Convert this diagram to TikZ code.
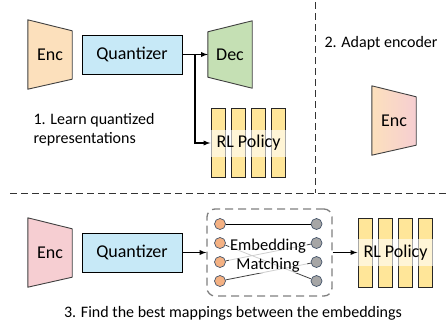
\documentclass[tikz,border=0pt]{standalone}
\usepackage{fontspec}
\setmainfont{Carlito}
\usetikzlibrary{arrows, positioning, calc, backgrounds}

\definecolor{encpeach}{RGB}{252,224,188}
\definecolor{encpink}{RGB}{246,206,210}
\definecolor{quantblue}{RGB}{199,233,247}
\definecolor{decgreen}{RGB}{197,224,180}
\definecolor{baryellow}{RGB}{255,230,153}
\definecolor{dotorange}{RGB}{244,177,131}
\definecolor{dotgray}{RGB}{166,166,166}
\definecolor{dotedge}{RGB}{68,84,106}
\definecolor{edgedark}{RGB}{64,64,64}
\definecolor{boxgray}{RGB}{127,127,127}

\begin{document}
\begin{tikzpicture}[x=1pt,y=-1pt,on grid,>=latex]
    \tikzstyle{txt}=[font=\fontsize{18}{20}\selectfont]
    \tikzstyle{note}=[font=\fontsize{16}{19}\selectfont]
    \tikzstyle{encbox}=[txt, minimum width=44pt, minimum height=69pt, inner sep=0pt]
    \tikzstyle{quant}=[txt, draw=black, line width=0.9pt, fill=quantblue, minimum width=100pt, minimum height=39pt]
    \tikzstyle{policy}=[txt, fill=white, fill opacity=0.6, text opacity=1, minimum width=76pt, minimum height=27pt, inner sep=0pt]
    \tikzstyle{bar}=[draw=black!85, line width=0.9pt, fill=baryellow]
    \tikzstyle{trap}=[draw=edgedark, line width=0.9pt, line join=round]
    \tikzstyle{matchbox}=[draw=boxgray, line width=1.3pt, dash pattern=on 8pt off 5pt, rounded corners=8pt, minimum width=125pt, minimum height=87pt]
    \tikzstyle{dot}=[circle, draw=dotedge, line width=0.7pt, minimum size=11pt, inner sep=0pt]
    \tikzstyle{sep}=[draw=black!80, line width=0.8pt, dash pattern=on 7pt off 4pt]
    \tikzstyle{link}=[draw, line width=1.3pt]

    \useasboundingbox (0,0) rectangle (446,322);

    % stage 1
    \node[encbox] (enc1) at (50,54.5) {Enc};
    \node[quant, right=82pt of enc1] (quant1) {Quantizer};
    \node[encbox, minimum height=67pt, right=98pt of quant1] (dec) {Dec};
    \node[policy] (rl1) at (248.5,143) {RL Policy};
    \coordinate (split) at ($(quant1.east)!0.5!(dec.west)$);

    % stage 2
    \node[encbox] (enc3) at (394,120.5) {Enc};

    % stage 3
    \node[encbox] (enc2) at (50,252.5) {Enc};
    \node[quant, right=82pt of enc2] (quant2) {Quantizer};
    \node[matchbox, right=137.5pt of quant2] (match) {};
    \node[policy, right=126pt of match] (rl2) {RL Policy};

    \begin{scope}[on background layer]
        \draw[trap, fill=encpeach] (enc1.north west) -- ([yshift=-11pt]enc1.north east)
            -- ([yshift=10pt]enc1.south east) -- (enc1.south west) -- cycle;
        \draw[trap, fill=decgreen] ([yshift=-11pt]dec.north west) -- (dec.north east)
            -- (dec.south east) -- ([yshift=11pt]dec.south west) -- cycle;
        \draw[trap, left color=encpeach, right color=encpink] (enc3.north west) -- ([yshift=-11pt]enc3.north east)
            -- ([yshift=10pt]enc3.south east) -- (enc3.south west) -- cycle;
        \draw[trap, fill=encpink] (enc2.north west) -- ([yshift=-11pt]enc2.north east)
            -- ([yshift=10pt]enc2.south east) -- (enc2.south west) -- cycle;
        \foreach \i in {0,...,3} {
            \draw[bar] ($(rl1.center)+(-37.5+20.3*\i,-34.5)$) rectangle ++(14,69);
            \draw[bar] ($(rl2.center)+(-37.5+20.3*\i,-34.5)$) rectangle ++(14,69);
        }
    \end{scope}

    % embedding matching
    \foreach \i/\dy in {1/-28.5, 2/-9.5, 3/9.5, 4/28.5} {
        \node[dot, fill=dotorange] (o\i) at ($(match.center)+(-49.5,\dy)$) {};
        \node[dot, fill=dotgray] (g\i) at ($(match.center)+(47,\dy)$) {};
    }
    \draw[line width=0.9pt] (o1) -- (g1);
    \draw[edgedark, line width=0.8pt] (o2) -- (g4) (o3) -- (g2) (o4) -- (g3);
    \node[align=center, fill=white, fill opacity=0.75, text opacity=1, inner sep=1pt,
          font=\fontsize{16.5}{19}\selectfont] (emb) at ($(match.center)+(-1.5,3)$) {Embedding\\Matching};

    \draw[->, link] (quant1) -- (dec);
    \draw[->, link] (split) |- (rl1);
    \draw[->, link] (quant2) -- (match);
    \draw[->, link] (match) -- (rl2);

    % separators
    \draw[sep] (315,2) -- (315,193);
    \draw[sep] (10,193) -- (446,193);

    \node[note, align=left, anchor=west] (cap1) at (30,130) {1. Learn quantized\\representations};
    \node[note] (cap2) at (381,43) {2. Adapt encoder};
    \node[note] (cap3) at (233,313) {3. Find the best mappings between the embeddings};
\end{tikzpicture}
\end{document}
